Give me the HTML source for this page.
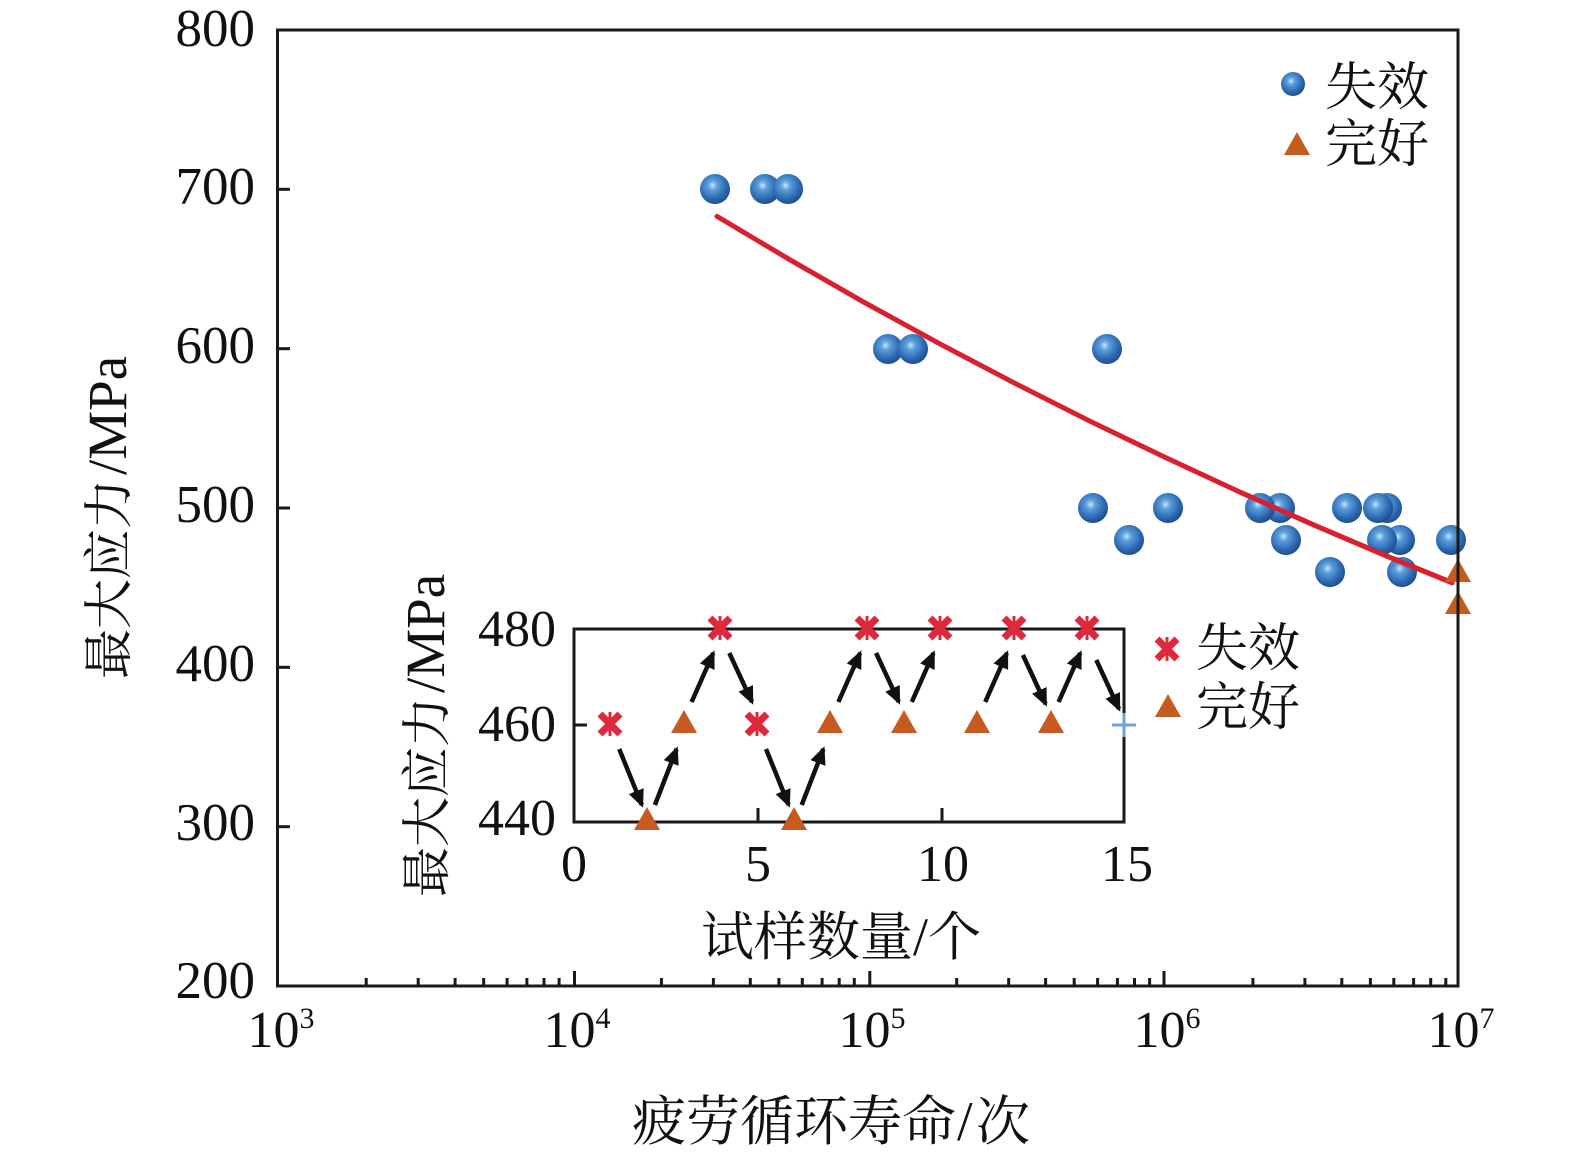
<!DOCTYPE html>
<html><head><meta charset="utf-8"><style>
html,body{margin:0;padding:0;background:#fff;}
svg{display:block;}
.num{font-family:"Liberation Serif","Noto Serif CJK SC",serif;fill:#111;}
.cjk{font-family:"Liberation Serif","Noto Serif CJK SC",serif;fill:#111;}
</style></head><body>
<svg width="1575" height="1154" viewBox="0 0 1575 1154" xmlns="http://www.w3.org/2000/svg">
<defs>
<radialGradient id="ball" cx="0.42" cy="0.38" r="0.62">
<stop offset="0" stop-color="#c6e6ff"/>
<stop offset="0.25" stop-color="#5d9fdc"/>
<stop offset="0.7" stop-color="#2e6cb4"/>
<stop offset="1" stop-color="#1e4f8e"/>
</radialGradient>
<marker id="ah" viewBox="0 0 18 16" refX="15" refY="8" markerWidth="18" markerHeight="16" markerUnits="userSpaceOnUse" orient="auto">
<path d="M0,0 L18,8 L0,16 z" fill="#111"/>
</marker>
<g id="xm">
<line x1="-10" y1="-10" x2="10" y2="10" stroke="#e0283c" stroke-width="7"/>
<line x1="-10" y1="10" x2="10" y2="-10" stroke="#e0283c" stroke-width="7"/>
<line x1="0" y1="-12" x2="0" y2="12" stroke="#e0283c" stroke-width="3"/>
</g>
<path id="tri" d="M0,-13 L13,10 L-13,10 z" fill="#c55b1f"/>
</defs>

<!-- red fit line -->
<polyline fill="none" stroke="#d8202e" stroke-width="5" stroke-linejoin="round" stroke-linecap="round"
points="717,216.4 790,259.8 865,302.8 940,343.9 1015,383.3 1090,421.2 1165,457.3 1240,492.1 1315,525.5 1390,557.4 1452,582.7"/>

<!-- circles -->
<g fill="url(#ball)">
<circle cx="715" cy="189" r="15"/>
<circle cx="765" cy="189" r="15"/>
<circle cx="788" cy="189" r="15"/>
<circle cx="888" cy="349" r="15"/>
<circle cx="913" cy="349" r="15"/>
<circle cx="1107" cy="349" r="15"/>
<circle cx="1093" cy="508" r="15"/>
<circle cx="1168" cy="508" r="15"/>
<circle cx="1280" cy="508" r="15"/>
<circle cx="1260" cy="508" r="15"/>
<circle cx="1347" cy="508" r="15"/>
<circle cx="1387" cy="508" r="15"/>
<circle cx="1378" cy="508" r="15"/>
<circle cx="1129" cy="540" r="15"/>
<circle cx="1286" cy="540" r="15"/>
<circle cx="1400" cy="540" r="15"/>
<circle cx="1382" cy="540" r="15"/>
<circle cx="1451" cy="540" r="15"/>
<circle cx="1330" cy="572" r="15"/>
<circle cx="1402" cy="572" r="15"/>
</g>
<polyline fill="none" stroke="#d8202e" stroke-width="5" stroke-linejoin="round" stroke-linecap="round"
points="1240,492.1 1315,525.5 1390,557.4 1452,582.7"/>

<!-- main triangles -->
<use href="#tri" x="1458" y="572"/>
<use href="#tri" x="1458" y="604"/>

<!-- main axes box -->
<rect x="277.5" y="30" width="1180.5" height="956" fill="none" stroke="#1a1a1a" stroke-width="3"/>
<g stroke="#1a1a1a" stroke-width="3">
<line x1="277" y1="189.3" x2="290" y2="189.3"/>
<line x1="277" y1="348.7" x2="290" y2="348.7"/>
<line x1="277" y1="508" x2="290" y2="508"/>
<line x1="277" y1="667.3" x2="290" y2="667.3"/>
<line x1="277" y1="826.7" x2="290" y2="826.7"/>
</g>
<g stroke="#1a1a1a" stroke-width="3">
<line x1="574.5" y1="986" x2="574.5" y2="971"/>
<line x1="869.8" y1="986" x2="869.8" y2="971"/>
<line x1="1164" y1="986" x2="1164" y2="971"/>
<line x1="366.2" y1="986" x2="366.2" y2="978"/><line x1="418.2" y1="986" x2="418.2" y2="978"/><line x1="455.1" y1="986" x2="455.1" y2="978"/><line x1="483.7" y1="986" x2="483.7" y2="978"/><line x1="507.1" y1="986" x2="507.1" y2="978"/><line x1="526.9" y1="986" x2="526.9" y2="978"/><line x1="544.0" y1="986" x2="544.0" y2="978"/><line x1="559.1" y1="986" x2="559.1" y2="978"/>
<line x1="661.4" y1="986" x2="661.4" y2="978"/><line x1="713.4" y1="986" x2="713.4" y2="978"/><line x1="750.3" y1="986" x2="750.3" y2="978"/><line x1="778.9" y1="986" x2="778.9" y2="978"/><line x1="802.3" y1="986" x2="802.3" y2="978"/><line x1="822.1" y1="986" x2="822.1" y2="978"/><line x1="839.2" y1="986" x2="839.2" y2="978"/><line x1="854.3" y1="986" x2="854.3" y2="978"/>
<line x1="956.7" y1="986" x2="956.7" y2="978"/><line x1="1008.7" y1="986" x2="1008.7" y2="978"/><line x1="1045.6" y1="986" x2="1045.6" y2="978"/><line x1="1074.2" y1="986" x2="1074.2" y2="978"/><line x1="1097.6" y1="986" x2="1097.6" y2="978"/><line x1="1117.4" y1="986" x2="1117.4" y2="978"/><line x1="1134.5" y1="986" x2="1134.5" y2="978"/><line x1="1149.6" y1="986" x2="1149.6" y2="978"/>
<line x1="1252.9" y1="986" x2="1252.9" y2="978"/><line x1="1304.9" y1="986" x2="1304.9" y2="978"/><line x1="1341.8" y1="986" x2="1341.8" y2="978"/><line x1="1370.4" y1="986" x2="1370.4" y2="978"/><line x1="1393.8" y1="986" x2="1393.8" y2="978"/><line x1="1413.6" y1="986" x2="1413.6" y2="978"/><line x1="1430.7" y1="986" x2="1430.7" y2="978"/><line x1="1445.8" y1="986" x2="1445.8" y2="978"/>
</g>

<g class="num" font-size="53" text-anchor="end">
<text x="255" y="46">800</text>
<text x="255" y="204">700</text>
<text x="255" y="363">600</text>
<text x="255" y="522">500</text>
<text x="255" y="681">400</text>
<text x="255" y="840">300</text>
<text x="255" y="998">200</text>
</g>
<g class="num" font-size="52" text-anchor="middle">
<text x="281" y="1047">10<tspan font-size="30" dy="-19">3</tspan></text>
<text x="577" y="1047">10<tspan font-size="30" dy="-19">4</tspan></text>
<text x="872" y="1047">10<tspan font-size="30" dy="-19">5</tspan></text>
<text x="1167" y="1047">10<tspan font-size="30" dy="-19">6</tspan></text>
<text x="1461" y="1047">10<tspan font-size="30" dy="-19">7</tspan></text>
</g>

<text class="cjk" font-size="54" x="632" y="1140">疲劳循环寿命<tspan x="957" font-size="56">/</tspan><tspan x="976">次</tspan></text>
<text class="cjk" transform="translate(126,679) rotate(-90)" font-size="50">最大应力<tspan font-size="55" dx="4">/MPa</tspan></text>

<circle cx="1293" cy="84" r="12" fill="url(#ball)"/>
<text class="cjk" font-size="52" x="1325" y="105">失效</text>
<use href="#tri" x="1297" y="145"/>
<text class="cjk" font-size="52" x="1325" y="162">完好</text>

<!-- ===== inset ===== -->
<rect x="574" y="629" width="550" height="193" fill="#fff" stroke="none"/>
<g stroke="#111" stroke-width="4.5" marker-end="url(#ah)">
<line x1="619.2" y1="749" x2="641.9" y2="805"/>
<line x1="654.9" y1="805" x2="676.6" y2="749"/>
<line x1="691.6" y1="702" x2="713.3" y2="653"/>
<line x1="729.3" y1="653" x2="752" y2="702"/>
<line x1="766" y1="749" x2="788.7" y2="805"/>
<line x1="801.7" y1="805" x2="823.4" y2="749"/>
<line x1="838.4" y1="702" x2="860.1" y2="653"/>
<line x1="876.1" y1="653" x2="898.8" y2="702"/>
<line x1="911.8" y1="702" x2="933.5" y2="653"/>
<line x1="985.2" y1="702" x2="1006.9" y2="653"/>
<line x1="1022.9" y1="655" x2="1045.6" y2="704"/>
<line x1="1058.6" y1="702" x2="1080.3" y2="653"/>
<line x1="1096.3" y1="660" x2="1119" y2="709"/>
</g>
<rect x="574" y="629" width="550" height="193" fill="none" stroke="#1a1a1a" stroke-width="3"/>
<g stroke="#1a1a1a" stroke-width="3">
<line x1="574" y1="725" x2="587" y2="725"/>
<line x1="758" y1="822" x2="758" y2="808"/>
<line x1="942" y1="822" x2="942" y2="808"/>
</g>
<use href="#xm" x="610" y="724"/>
<use href="#xm" x="720" y="628"/>
<use href="#xm" x="757" y="724"/>
<use href="#xm" x="867" y="628"/>
<use href="#xm" x="940" y="628"/>
<use href="#xm" x="1014" y="628"/>
<use href="#xm" x="1087" y="628"/>
<use href="#tri" x="647" y="820"/>
<use href="#tri" x="684" y="723"/>
<use href="#tri" x="794" y="820"/>
<use href="#tri" x="830" y="723"/>
<use href="#tri" x="904" y="723"/>
<use href="#tri" x="977" y="723"/>
<use href="#tri" x="1051" y="723"/>
<g stroke="#6ea2d8" stroke-width="3">
<line x1="1112" y1="725" x2="1136" y2="725"/>
<line x1="1124" y1="713" x2="1124" y2="737"/>
</g>
<g class="num" font-size="52" text-anchor="end">
<text x="556" y="646">480</text>
<text x="556" y="741">460</text>
<text x="556" y="835">440</text>
</g>
<g class="num" font-size="52" text-anchor="middle">
<text x="574" y="881">0</text>
<text x="758" y="881">5</text>
<text x="943" y="881">10</text>
<text x="1127" y="881">15</text>
</g>
<text class="cjk" font-size="53" x="701" y="955">试样数量<tspan font-size="54">/</tspan>个</text>
<text class="cjk" transform="translate(444,897) rotate(-90)" font-size="50">最大应力<tspan font-size="55" dx="4">/MPa</tspan></text>
<use href="#xm" x="1167" y="649"/>
<text class="cjk" font-size="52" x="1196" y="666">失效</text>
<use href="#tri" x="1168" y="707"/>
<text class="cjk" font-size="52" x="1196" y="725">完好</text>
</svg>
</body></html>
